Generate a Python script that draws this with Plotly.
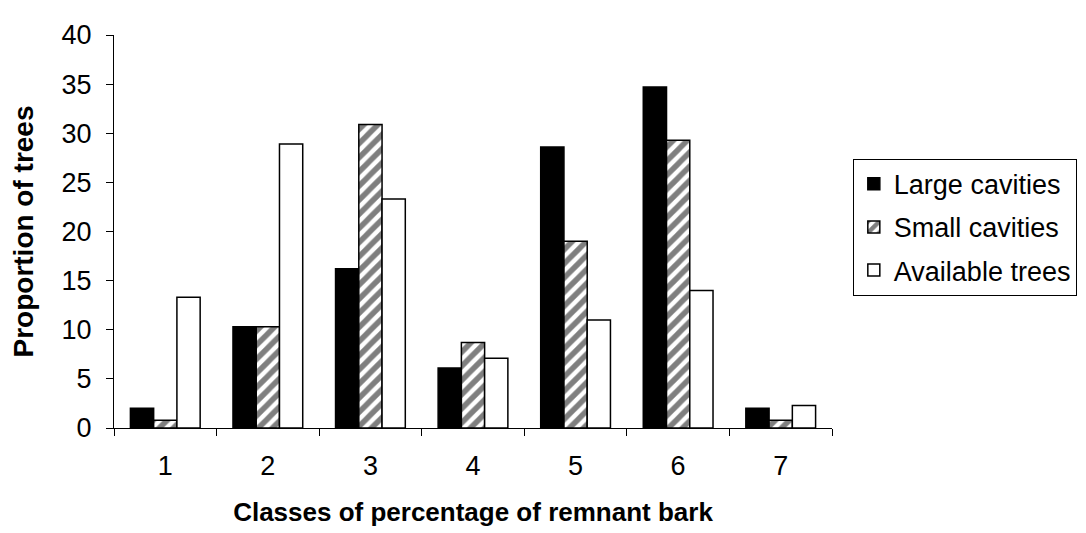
import plotly.graph_objects as go

categories = ["1", "2", "3", "4", "5", "6", "7"]
large_cavities = [2.0, 10.3, 16.2, 6.1, 28.6, 34.7, 2.0]
small_cavities = [0.8, 10.3, 30.9, 8.7, 19.0, 29.3, 0.8]
available_trees = [13.3, 28.9, 23.3, 7.1, 11.0, 14.0, 2.3]
y_ticks = [0, 5, 10, 15, 20, 25, 30, 35, 40]

fig = go.Figure()
fig.add_trace(go.Bar(x=categories, y=large_cavities, name="Large cavities", legendgroup="a",
                     marker=dict(color="black", line=dict(color="black", width=1.5))))
fig.add_trace(go.Bar(x=categories, y=small_cavities, name="Small cavities", legendgroup="b",
                     marker=dict(color="white", line=dict(color="black", width=1.5),
                                 pattern=dict(shape="/", fgcolor="black", bgcolor="white",
                                              size=10, solidity=0.55))))
fig.add_trace(go.Bar(x=categories, y=available_trees, name="Available trees", legendgroup="c",
                     marker=dict(color="white", line=dict(color="black", width=1.5))))

fig.update_layout(
    width=1086, height=533,
    margin=dict(l=106, r=262, t=16, b=113),
    paper_bgcolor="white", plot_bgcolor="white",
    barmode="group", bargap=0.32, bargroupgap=0,
    font=dict(family="Arial, Liberation Sans", size=27, color="black"),
    legend=dict(x=1.029, y=0.685, xanchor="left", yanchor="top",
                bordercolor="black", borderwidth=1, font=dict(size=27),
                tracegroupgap=5, itemwidth=30),
    xaxis=dict(
        showline=True, linecolor="black", linewidth=1,
        ticks="outside", tickson="boundaries", ticklen=7, tickcolor="black",
        ticklabelstandoff=14, tickfont=dict(size=27),
        title=dict(text="<b>Classes of percentage of remnant bark</b>", font=dict(size=26), standoff=22),
        showgrid=False,
    ),
    yaxis=dict(
        range=[0, 40], tickvals=y_ticks,
        showline=True, linecolor="black", linewidth=1,
        ticks="outside", ticklen=7, tickcolor="black",
        ticklabelstandoff=9, tickfont=dict(size=27),
        title=dict(text="<b>Proportion of trees</b>", font=dict(size=28), standoff=20),
        showgrid=False, zeroline=False,
    ),
)

fig.write_html("out.html")
